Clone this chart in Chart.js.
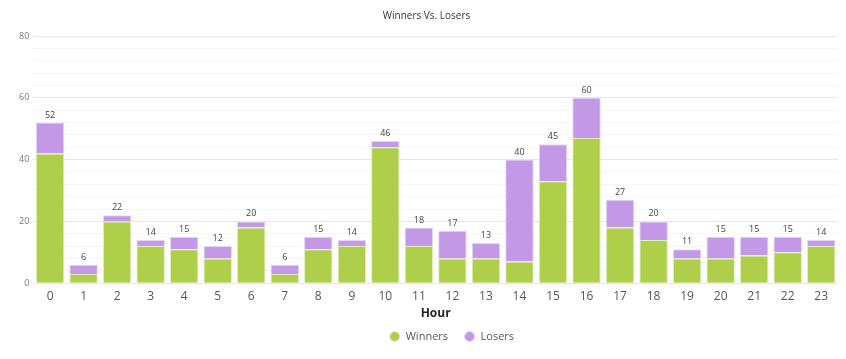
<!DOCTYPE html>
<html>
<head>
<meta charset="utf-8">
<script src="https://cdn.jsdelivr.net/npm/chart.js@4.4.0/dist/chart.umd.min.js"></script>
<style>
  html, body { margin: 0; padding: 0; background: #fff; }
  #wrap { width: 846px; height: 359px; }
</style>
</head>
<body>
<div id="wrap"><canvas id="my-chart"></canvas></div>
<script>
const hours = ['0','1','2','3','4','5','6','7','8','9','10','11','12','13','14','15','16','17','18','19','20','21','22','23'];
const winners = [42,3,20,12,11,8,18,3,11,12,44,12,8,8,7,33,47,18,14,8,8,9,10,12];
const losers = [10,3,2,2,4,4,2,3,4,2,2,6,9,5,33,12,13,9,6,3,7,6,5,2];

// total above each stack
const totalsPlugin = {
    id: 'totals',
    afterDatasetsDraw(chart) {
        const ctx = chart.ctx;
        const meta = chart.getDatasetMeta(1);
        ctx.save();
        ctx.font = '9px "Open Sans", sans-serif';
        ctx.fillStyle = '#444';
        ctx.textAlign = 'center';
        ctx.textBaseline = 'bottom';
        meta.data.forEach((bar, i) => {
            const total = winners[i] + losers[i];
            ctx.fillText(total, bar.x, bar.y - 3);
        });
        ctx.restore();
    }
};

// legend in the original sits a bit right of centre
const legendShift = {
    id: 'legendShift',
    afterLayout(chart) {
        chart.legend.left += 16;
        chart.legend.right += 16;
    }
};

const canvas = document.getElementById('my-chart');
const myChart = new Chart(canvas, {
    type: 'bar',
    data: {
        labels: hours,
        datasets: [{
            label: 'Winners',
            data: winners,
            backgroundColor: '#afcf4b',
            borderColor: '#e2efc0',
            borderWidth: 1
        }, {
            label: 'Losers',
            data: losers,
            backgroundColor: '#c398e6',
            borderColor: '#e6d5f5',
            borderWidth: 1
        }]
    },
    options: {
        responsive: true,
        maintainAspectRatio: false,
        animation: false,
        datasets: {
            bar: { barPercentage: 0.85, categoryPercentage: 1 }
        },
        layout: { padding: { left: 15, right: 8, top: 0, bottom: 7 } },
        scales: {
            x: {
                stacked: true,
                grid: { display: false, drawTicks: false },
                border: { display: false },
                ticks: { color: '#555', font: { size: 12, family: '"Open Sans", sans-serif' }, padding: 6 },
                title: {
                    display: true,
                    text: 'Hour',
                    color: '#222',
                    font: { size: 12, weight: 'bold', family: '"Open Sans", sans-serif' },
                    padding: { top: -3, bottom: -6 }
                }
            },
            y: {
                stacked: true,
                min: 0,
                max: 80,
                border: { display: false },
                grid: {
                    color: (c) => (c.tick.value % 20 === 0 ? '#e6e6e6' : '#f5f5f5'),
                    drawTicks: false
                },
                ticks: {
                    stepSize: 4,
                    autoSkip: false,
                    color: '#777',
                    padding: 4,
                    font: { size: 9, family: '"Open Sans", sans-serif' },
                    callback: (v) => (v % 20 === 0 ? v : '')
                }
            }
        },
        plugins: {
            title: {
                display: true,
                text: 'Winners Vs. Losers',
                color: '#333',
                font: { size: 10, weight: 'normal', family: '"Open Sans", sans-serif' },
                padding: { top: 10, bottom: 14 }
            },
            legend: {
                position: 'bottom',
                fullSize: false,
                labels: {
                    color: '#555',
                    usePointStyle: true,
                    pointStyle: 'circle',
                    boxWidth: 11,
                    boxHeight: 7,
                    padding: 16,
                    font: { size: 11, family: '"Open Sans", sans-serif' }
                }
            },
            tooltip: { enabled: false }
        }
    },
    plugins: [totalsPlugin, legendShift]
});
</script>
</body>
</html>
